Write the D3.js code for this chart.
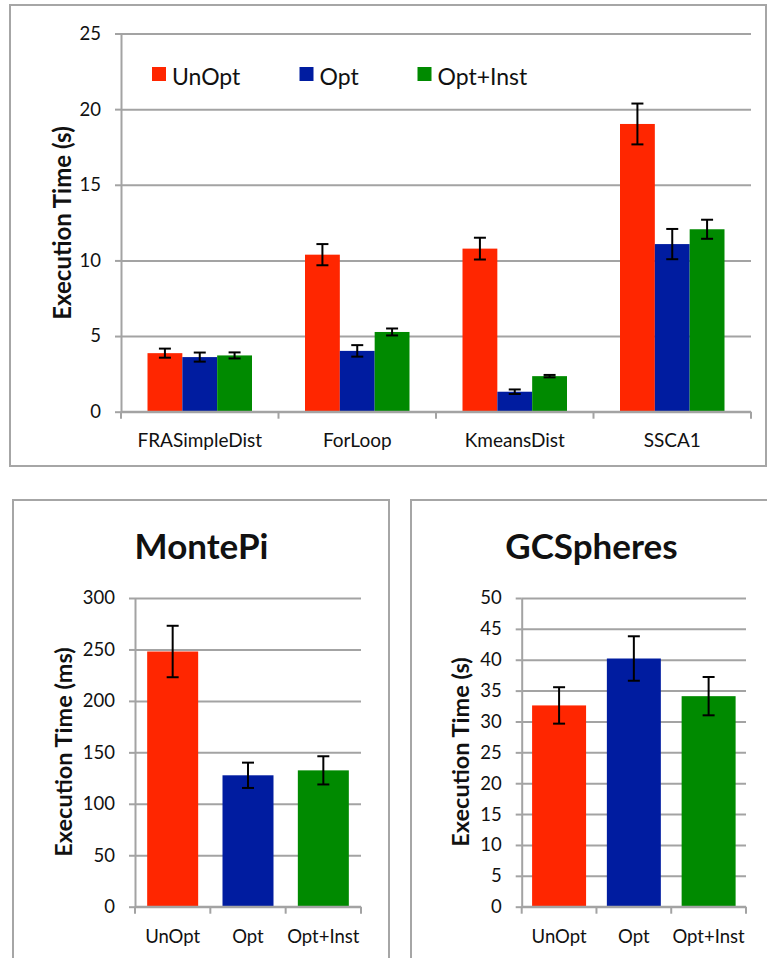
<!DOCTYPE html>
<html>
<head>
<meta charset="utf-8">
<script src="https://cdn.jsdelivr.net/npm/d3@7"></script>
<style>
  body { margin: 0; background: #fff; }
  svg { display: block; }
  text { font-family: Lato, "Open Sans", "Liberation Sans", sans-serif; fill: #111; }
</style>
</head>
<body>
<svg id="fig" width="767" height="958"></svg>
<script>
// ---- data ----
const benchmarks = ["FRASimpleDist", "ForLoop", "KmeansDist", "SSCA1"];
const variants = ["UnOpt", "Opt", "Opt+Inst"];

const unoptTime = [3.87, 10.38, 10.78, 19.02];
const unoptErr  = [0.30, 0.70, 0.72, 1.35];
const optTime   = [3.61, 4.02, 1.32, 11.08];
const optErr    = [0.30, 0.38, 0.15, 1.00];
const instTime  = [3.72, 5.27, 2.35, 12.06];
const instErr   = [0.20, 0.23, 0.08, 0.63];
const mainTicks = [0, 5, 10, 15, 20, 25];

const montePiTime  = [248, 127.7, 132.5];
const montePiErr   = [25, 12.3, 13.7];
const montePiTicks = [0, 50, 100, 150, 200, 250, 300];

const gcTime  = [32.6, 40.2, 34.1];
const gcErr   = [2.95, 3.6, 3.1];
const gcTicks = [0, 5, 10, 15, 20, 25, 30, 35, 40, 45, 50];

const variantColors = ["#ff2600", "#001ca0", "#008a00"];

// ---- shared styling ----
const GRID = "#a3a3a3";
const FRAME = "#a6a6a6";
const svg = d3.select("#fig");
const color = d3.scaleOrdinal(variants, variantColors);

function frame(x, y, w, h) {
  svg.append("rect")
    .attr("x", x).attr("y", y).attr("width", w).attr("height", h)
    .attr("fill", "none").attr("stroke", FRAME).attr("stroke-width", 2);
}

function valueAxis(g, y, ticks, left, right, fontSize) {
  // gridlines
  g.append("g")
    .attr("transform", `translate(${left},0)`)
    .call(d3.axisLeft(y).tickValues(ticks).tickSize(-(right - left)).tickFormat("").tickSizeOuter(0))
    .call(s => s.select(".domain").remove())
    .call(s => s.selectAll(".tick line").attr("stroke", GRID).attr("stroke-width", 2));
  // tick marks, labels and the axis line
  g.append("g")
    .attr("transform", `translate(${left},0)`)
    .call(d3.axisLeft(y).tickValues(ticks).tickSize(6).tickPadding(14).tickSizeOuter(0))
    .call(s => s.select(".domain").attr("stroke", GRID).attr("stroke-width", 2))
    .call(s => s.selectAll(".tick line").attr("stroke", GRID).attr("stroke-width", 2))
    .call(s => s.selectAll(".tick text")
      .attr("font-family", "Lato, 'Open Sans', sans-serif")
      .attr("font-size", fontSize).attr("fill", "#111"));
}

function categoryAxis(g, x, y0, labelY, fontSize) {
  const [r0, r1] = x.range();
  g.append("line")
    .attr("x1", r0).attr("x2", r1).attr("y1", y0).attr("y2", y0)
    .attr("stroke", GRID).attr("stroke-width", 2);
  const edges = x.domain().map(d => x(d) - x.step() * x.paddingOuter())
    .concat([r1]);
  g.selectAll("line.edge").data(edges).join("line")
    .attr("class", "edge")
    .attr("x1", d => d).attr("x2", d => d)
    .attr("y1", y0).attr("y2", y0 + 7)
    .attr("stroke", GRID).attr("stroke-width", 2);
  g.selectAll("text.cat").data(x.domain()).join("text")
    .attr("class", "cat")
    .attr("x", d => x(d) + x.bandwidth() / 2)
    .attr("y", labelY)
    .attr("text-anchor", "middle")
    .attr("font-size", fontSize)
    .text(d => d);
}

function errorBars(g, items, cap) {
  const eb = g.selectAll("g.err").data(items).join("g").attr("class", "err")
    .attr("stroke", "#000").attr("stroke-width", 2);
  eb.append("line")
    .attr("x1", d => d.cx).attr("x2", d => d.cx)
    .attr("y1", d => d.yHi).attr("y2", d => d.yLo);
  eb.append("line")
    .attr("x1", d => d.cx - cap / 2).attr("x2", d => d.cx + cap / 2)
    .attr("y1", d => d.yHi).attr("y2", d => d.yHi);
  eb.append("line")
    .attr("x1", d => d.cx - cap / 2).attr("x2", d => d.cx + cap / 2)
    .attr("y1", d => d.yLo).attr("y2", d => d.yLo);
}

function yTitle(text, cx, cy, size) {
  svg.append("text")
    .attr("transform", `translate(${cx},${cy}) rotate(-90)`)
    .attr("text-anchor", "middle")
    .attr("dominant-baseline", "central")
    .attr("font-weight", 700)
    .attr("font-size", size)
    .text(text);
}

// ---- grouped chart: execution time per benchmark ----
(function mainChart() {
  frame(10, 5, 756, 461);
  const left = 121, right = 751, bottom = 411.7, top = 33.5;
  const g = svg.append("g");

  const y = d3.scaleLinear([0, 25], [bottom, top]);
  const x0 = d3.scaleBand(benchmarks, [left, right]).padding(0);
  const groupW = 104.5;
  const bw = x0.bandwidth();
  const x1 = d3.scaleBand(variants, [(bw - groupW) / 2, (bw + groupW) / 2]);

  valueAxis(g, y, mainTicks, left, right, 18.5);

  const rows = benchmarks.map((b, i) => ({
    b,
    vals: [
      { v: "UnOpt", t: unoptTime[i], e: unoptErr[i] },
      { v: "Opt", t: optTime[i], e: optErr[i] },
      { v: "Opt+Inst", t: instTime[i], e: instErr[i] }
    ]
  }));

  const groups = g.selectAll("g.grp").data(rows).join("g")
    .attr("class", "grp")
    .attr("transform", d => `translate(${x0(d.b)},0)`);
  groups.selectAll("rect").data(d => d.vals).join("rect")
    .attr("x", d => x1(d.v))
    .attr("width", x1.bandwidth())
    .attr("y", d => y(d.t))
    .attr("height", d => y(0) - y(d.t))
    .attr("fill", d => color(d.v));

  categoryAxis(g, x0, bottom, 447, 19);

  const items = rows.flatMap(r => r.vals.map(d => ({
    cx: x0(r.b) + x1(d.v) + x1.bandwidth() / 2,
    yHi: y(d.t + d.e), yLo: y(d.t - d.e)
  })));
  errorBars(g, items, 12);

  // legend
  const legendX = [152, 299.5, 417.5];
  const lg = g.selectAll("g.leg").data(variants).join("g")
    .attr("class", "leg")
    .attr("transform", (d, i) => `translate(${legendX[i]},67)`);
  lg.append("rect").attr("width", 14).attr("height", 14).attr("fill", d => color(d));
  lg.append("text").attr("x", 20).attr("y", 17.5).attr("font-size", 23).text(d => d);

  yTitle("Execution Time (s)", 61, 223, 24);
})();

// ---- single-benchmark panels ----
function panel(o) {
  frame(o.fx, 500, o.fw, 520);
  const g = svg.append("g");
  g.append("text")
    .attr("x", o.titleX).attr("y", 559)
    .attr("text-anchor", "middle")
    .attr("font-weight", 700).attr("font-size", 35)
    .text(o.title);

  const bottom = 906.7, top = 598;
  const y = d3.scaleLinear([0, o.max], [bottom, top]);
  const x = d3.scaleBand(variants, [o.left, o.right])
    .paddingInner(o.pad).paddingOuter(o.pad / 2);

  valueAxis(g, y, o.ticks, o.left, o.right, 18.5);

  const items = variants.map((v, i) => ({ v, t: o.values[i], e: o.errs[i] }));
  g.selectAll("rect.bar").data(items).join("rect")
    .attr("class", "bar")
    .attr("x", d => x(d.v))
    .attr("width", x.bandwidth())
    .attr("y", d => y(d.t))
    .attr("height", d => y(0) - y(d.t))
    .attr("fill", d => color(d.v));

  categoryAxis(g, x, bottom, 943, 18.5);

  errorBars(g, items.map(d => ({
    cx: x(d.v) + x.bandwidth() / 2,
    yHi: y(d.t + d.e), yLo: y(d.t - d.e)
  })), 12);

  yTitle(o.yLabel, o.yTitleX, 752, 23.5);
}

panel({
  fx: 13, fw: 376, title: "MontePi", titleX: 201.5,
  left: 135, right: 361, pad: 0.323, max: 300, ticks: montePiTicks,
  values: montePiTime, errs: montePiErr,
  yLabel: "Execution Time (ms)", yTitleX: 62.5
});

panel({
  fx: 411, fw: 400, title: "GCSpheres", titleX: 591.5,
  left: 521.7, right: 746, pad: 0.278, max: 50, ticks: gcTicks,
  values: gcTime, errs: gcErr,
  yLabel: "Execution Time (s)", yTitleX: 460
});
</script>
</body>
</html>
